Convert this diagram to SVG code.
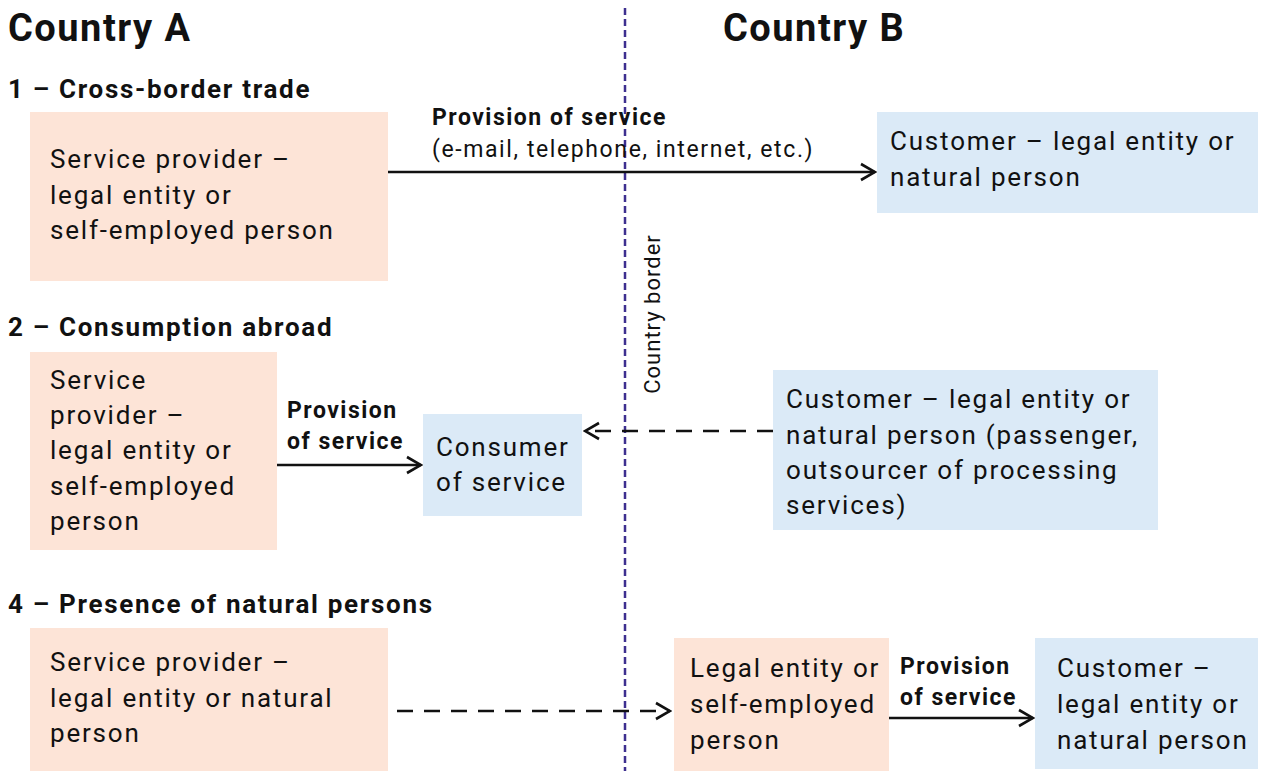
<svg xmlns="http://www.w3.org/2000/svg" width="1261" height="771" viewBox="0 0 1261 771">
<style>
.o{fill:#fde4d7}
.b{fill:#dbeaf7}
text{font-family:Roboto,"Liberation Sans",sans-serif;fill:#111}
.t{font-size:26px;letter-spacing:1.8px}
.h1{font-size:38px;font-weight:bold;letter-spacing:1.5px}
.h2{font-size:26px;font-weight:bold;letter-spacing:1.7px}
.lb{font-size:23px;font-weight:bold;letter-spacing:1.5px}
.lr{font-size:23px;letter-spacing:1.6px}
.cb{font-size:22px;letter-spacing:1px}
.c{stroke:#111;stroke-width:2.5;fill:none}
.d{stroke-dasharray:16 11}
</style>
<defs>
<marker id="ah" viewBox="0 0 20 20" refX="18" refY="10" markerWidth="20" markerHeight="20" markerUnits="userSpaceOnUse" orient="auto">
<path d="M4,2 L18,10 L4,18" fill="none" stroke="#111" stroke-width="2.6"/>
</marker>
</defs>
<rect width="1261" height="771" fill="#fff"/>
<g id="border">
<line x1="625" y1="8" x2="625" y2="771" stroke="#3d2f8f" stroke-width="2.5" stroke-dasharray="7 4"/>
<text class="cb" transform="translate(660,314) rotate(-90)" text-anchor="middle">Country border</text>
</g>
<g id="titles">
<text class="h1" x="8" y="41">Country A</text>
<text class="h1" x="723" y="41">Country B</text>
<text class="h2" x="8" y="98">1 – Cross-border trade</text>
<text class="h2" x="8" y="336">2 – Consumption abroad</text>
<text class="h2" x="8" y="613">4 – Presence of natural persons</text>
</g>
<g id="n1"><rect class="o" x="30" y="112" width="358" height="169"/>
<text class="t" x="50" y="168">Service provider –</text><text class="t" x="50" y="204">legal entity or</text><text class="t" x="50" y="239">self-employed person</text></g>
<g id="n2"><rect class="b" x="877" y="112" width="381" height="101"/>
<text class="t" x="890" y="150">Customer – legal entity or</text><text class="t" x="890" y="186">natural person</text></g>
<g id="n3"><rect class="o" x="30" y="352" width="247" height="198"/>
<text class="t" x="50" y="389">Service</text><text class="t" x="50" y="424">provider –</text><text class="t" x="50" y="459">legal entity or</text><text class="t" x="50" y="495">self-employed</text><text class="t" x="50" y="530">person</text></g>
<g id="n4"><rect class="b" x="423" y="414" width="159" height="102"/>
<text class="t" x="436" y="456">Consumer</text><text class="t" x="436" y="491">of service</text></g>
<g id="n5"><rect class="b" x="773" y="370" width="385" height="160"/>
<text class="t" x="786" y="408">Customer – legal entity or</text><text class="t" x="786" y="444">natural person (passenger,</text><text class="t" x="786" y="479">outsourcer of processing</text><text class="t" x="786" y="514">services)</text></g>
<g id="n6"><rect class="o" x="30" y="628" width="358" height="143"/>
<text class="t" x="50" y="671">Service provider –</text><text class="t" x="50" y="707">legal entity or natural</text><text class="t" x="50" y="742">person</text></g>
<g id="n7"><rect class="o" x="674" y="638" width="215" height="133"/>
<text class="t" x="690" y="677">Legal entity or</text><text class="t" x="690" y="713">self-employed</text><text class="t" x="690" y="749">person</text></g>
<g id="n8"><rect class="b" x="1035" y="638" width="223" height="131"/>
<text class="t" x="1057" y="677">Customer –</text><text class="t" x="1057" y="713">legal entity or</text><text class="t" x="1057" y="749">natural person</text></g>
<g id="connectors">
<line class="c" x1="388" y1="172" x2="875" y2="172" marker-end="url(#ah)"/>
<text class="lb" x="432" y="125">Provision of service</text>
<text class="lr" x="432" y="157">(e-mail, telephone, internet, etc.)</text>
<line class="c" x1="277" y1="465" x2="421" y2="465" marker-end="url(#ah)"/>
<text class="lb" x="287" y="418">Provision</text>
<text class="lb" x="287" y="449">of service</text>
<line class="c d" x1="773" y1="431" x2="585" y2="431" marker-end="url(#ah)"/>
<line class="c d" x1="397" y1="711" x2="670" y2="711" marker-end="url(#ah)"/>
<line class="c" x1="889" y1="718" x2="1033" y2="718" marker-end="url(#ah)"/>
<text class="lb" x="900" y="674">Provision</text>
<text class="lb" x="900" y="705">of service</text>
</g>
</svg>
